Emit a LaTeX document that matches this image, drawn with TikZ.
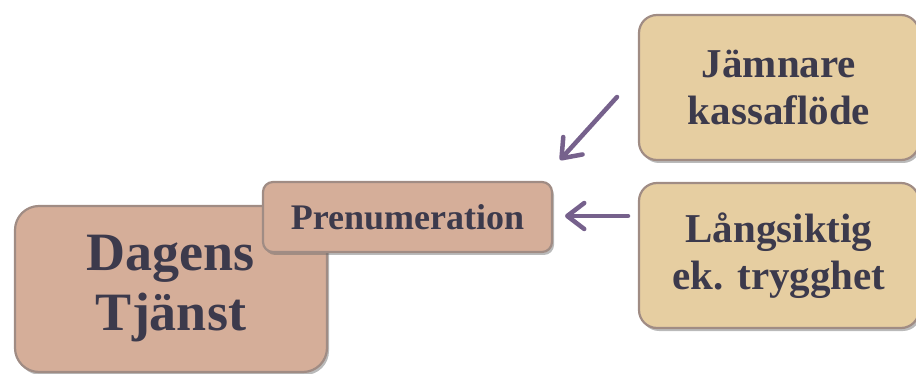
\documentclass[tikz,border=0pt]{standalone}
\usepackage{fontspec}
\setmainfont{Liberation Serif}
\usetikzlibrary{arrows.meta,shadows}
\definecolor{salmon}{RGB}{213,174,153}
\definecolor{sand}{RGB}{230,206,161}
\definecolor{edge}{RGB}{160,140,132}
\definecolor{ink}{RGB}{60,58,76}
\definecolor{arrowc}{RGB}{118,97,140}
\tikzset{
  box/.style={draw=edge, line width=2.2pt, text=ink, align=center, inner sep=0pt,
    font=\bfseries, drop shadow={shadow xshift=2pt, shadow yshift=-3pt, opacity=0.45, fill=black!60}},
  pinkbox/.style={box, fill=salmon},
  sandbox/.style={box, fill=sand, rounded corners=18pt},
  conn/.style={draw=arrowc, line width=4.5pt, line cap=round,
    -{Straight Barb[length=17pt,width=26pt,line cap=round,line join=round]}}
}
\begin{document}
\begin{tikzpicture}[x=1pt,y=-1pt]
\useasboundingbox (0,0) rectangle (916,374);
\node[pinkbox, rounded corners=24pt, minimum width=312pt, minimum height=166pt,
  font=\bfseries\fontsize{54}{60}\selectfont] (dagens) at (171,289) {\raisebox{-4pt}{\parbox{300pt}{\centering Dagens\\Tjänst}}};
\node[pinkbox, rounded corners=10pt, minimum width=289pt, minimum height=70pt,
  font=\bfseries\fontsize{36}{40}\selectfont] (pren) at (407.5,217) {Prenumeration};
\node[sandbox, minimum width=280pt, minimum height=145pt,
  font=\bfseries\fontsize{41}{47}\selectfont] (jamn) at (779,87.5) {Jämnare\\kassaflöde};
\node[sandbox, minimum width=280pt, minimum height=145pt,
  font=\bfseries\fontsize{41}{47}\selectfont] (lang) at (779,255.5) {Långsiktig\\ek. trygghet};
\coordinate (a1s) at (617,97);
\coordinate (a1e) at (560,160);
\coordinate (a2s) at (628,216);
\coordinate (a2e) at (565,216);
\draw[conn] (a1s) -- (a1e);
\draw[conn] (a2s) -- (a2e);
\end{tikzpicture}
\end{document}
